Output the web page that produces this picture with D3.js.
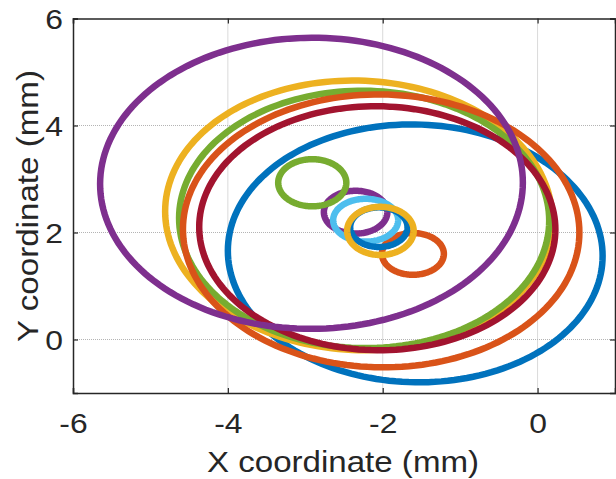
<!DOCTYPE html>
<html>
<head>
<meta charset="utf-8">
<script src="https://cdn.jsdelivr.net/npm/d3@7"></script>
<style>
  body { margin: 0; background: #fff; }
  .canvas { width: 616px; height: 479px; }
  text { font-family: "Liberation Sans", Arial, Helvetica, sans-serif; fill: #262626; }
  .axis path, .axis line { stroke: #262626; }
  .grid line { stroke: #b4b4b4; stroke-dasharray: 1,1; }
</style>
</head>
<body>
<div class="canvas" id="canvas"></div>
<script>
// Large ellipses (drawn in plot order)
var bigColors = ['#0072BD', '#EDB120', '#77AC30', '#A2142F', '#D95319', '#7E2F8E'];
var bigCx = [-1.58, -2.31, -2.24, -2.07, -2.02, -2.92];
var bigCy = [1.61, 2.32, 2.245, 2.08, 2.03, 2.92];
var bigRx = [2.42, 2.50, 2.39, 2.30, 2.56, 2.73];
var bigRy = [2.41, 2.52, 2.405, 2.28, 2.55, 2.72];
var bigTilt = [-0.02, -0.03, -0.01, -0.01, -0.012, 0.005];

// Small ellipses, one after each large one
var smallColors = ['#D95319', '#7E2F8E', '#4DBEEE', '#0072BD', '#EDB120', '#77AC30'];
var smallCx = [-1.61, -2.35, -2.22, -2.05, -2.03, -2.91];
var smallCy = [1.60, 2.38, 2.23, 2.10, 2.03, 2.93];
var smallRx = [0.40, 0.41, 0.42, 0.37, 0.43, 0.44];
var smallRy = [0.39, 0.40, 0.40, 0.37, 0.45, 0.44];

var xTicks = [-6, -4, -2, 0];
var yTicks = [0, 2, 4, 6];
var xDomain = [-6, 1], yDomain = [-1, 6];

var m = {t:18.5, r:1, b:86, l:73},
    w = 616 - m.l - m.r,
    h = 479 - m.t - m.b;

var svg = d3.select('.canvas')
    .append('svg')
    .attr('width', 616)
    .attr('height', 479);

var plot = svg.append('g')
    .attr('transform','translate('+ m.l+','+ m.t+')');

// Scale
var scaleX = d3.scaleLinear().domain(xDomain).range([0, w]);
var scaleY = d3.scaleLinear().domain(yDomain).range([h, 0]);

// Grid
var grid = plot.append('g').attr('class','grid');
grid.selectAll('.gx').data(xTicks.filter(function(d){return d > xDomain[0];}))
    .enter().append('line')
    .attr('x1', function(d){return scaleX(d);})
    .attr('x2', function(d){return scaleX(d);})
    .attr('y1', 0).attr('y2', h);
grid.selectAll('.gy').data(yTicks.filter(function(d){return d < yDomain[1];}))
    .enter().append('line')
    .attr('y1', function(d){return scaleY(d);})
    .attr('y2', function(d){return scaleY(d);})
    .attr('x1', 0).attr('x2', w);

// Ellipses
plot.append('clipPath').attr('id','clip')
    .append('rect').attr('width', w).attr('height', h);

var line = d3.line()
    .x(function(p){return scaleX(p[0]);})
    .y(function(p){return scaleY(p[1]);})
    .curve(d3.curveLinearClosed);

function ellipse(cx, cy, rx, ry, tilt){
  return d3.range(0, 360, 2).map(function(a){
    var t = a * Math.PI / 180;
    return [cx + rx*Math.cos(t), cy + ry*Math.sin(t + tilt)];
  });
}

var shapes = [];
bigColors.forEach(function(c, i){
  shapes.push({color: c, pts: ellipse(bigCx[i], bigCy[i], bigRx[i], bigRy[i], bigTilt[i])});
  shapes.push({color: smallColors[i], pts: ellipse(smallCx[i], smallCy[i], smallRx[i], smallRy[i], 0)});
});

plot.append('g').attr('clip-path','url(#clip)')
  .selectAll('path').data(shapes)
  .enter().append('path')
  .attr('d', function(d){return line(d.pts);})
  .attr('fill','none')
  .attr('stroke', function(d){return d.color;})
  .attr('stroke-width', 6.5);

// Axes
var axisX = d3.axisBottom(scaleX).tickValues(xTicks).tickSize(-5).tickPadding(21).tickFormat(d3.format('d'));
var axisY = d3.axisLeft(scaleY).tickValues(yTicks).tickSize(-5).tickPadding(10).tickFormat(d3.format('d'));
var axisTop = d3.axisTop(scaleX).tickValues(xTicks).tickSize(-5).tickFormat('');
var axisRight = d3.axisRight(scaleY).tickValues(yTicks).tickSize(-5).tickFormat('');

plot.append('g').attr('class','axis axis-x')
    .attr('transform','translate(0,'+h+')')
    .call(axisX);
plot.append('g').attr('class','axis axis-y').call(axisY);
plot.append('g').attr('class','axis').call(axisTop);
plot.append('g').attr('class','axis')
    .attr('transform','translate('+w+',0)')
    .call(axisRight);

plot.selectAll('.axis path').attr('stroke-width', 1.5);
plot.selectAll('.axis line').attr('stroke-width', 1.2);
plot.selectAll('.axis text')
    .style('font-size', '27px')
    .attr('fill', '#262626');
plot.selectAll('.axis-x text').text(function(d){return d < 0 ? '-' + Math.abs(d) : d;});
plot.selectAll('.axis-y text').attr('dy', '0.36em');
// the original font is wider than Arial
plot.selectAll('.axis text').each(function(){
  var len = this.getComputedTextLength();
  d3.select(this).attr('textLength', len * 1.18).attr('lengthAdjust', 'spacingAndGlyphs');
});

// Labels
svg.append('text')
    .attr('x', m.l + w/2 - 1)
    .attr('y', 472)
    .attr('text-anchor','middle')
    .attr('textLength', 272)
    .attr('lengthAdjust', 'spacingAndGlyphs')
    .style('font-size', '30px')
    .text('X coordinate (mm)');

svg.append('text')
    .attr('transform', 'translate(38,' + 206 + ') rotate(-90)')
    .attr('text-anchor','middle')
    .attr('textLength', 272)
    .attr('lengthAdjust', 'spacingAndGlyphs')
    .style('font-size', '30px')
    .text('Y coordinate (mm)');
</script>
</body>
</html>
